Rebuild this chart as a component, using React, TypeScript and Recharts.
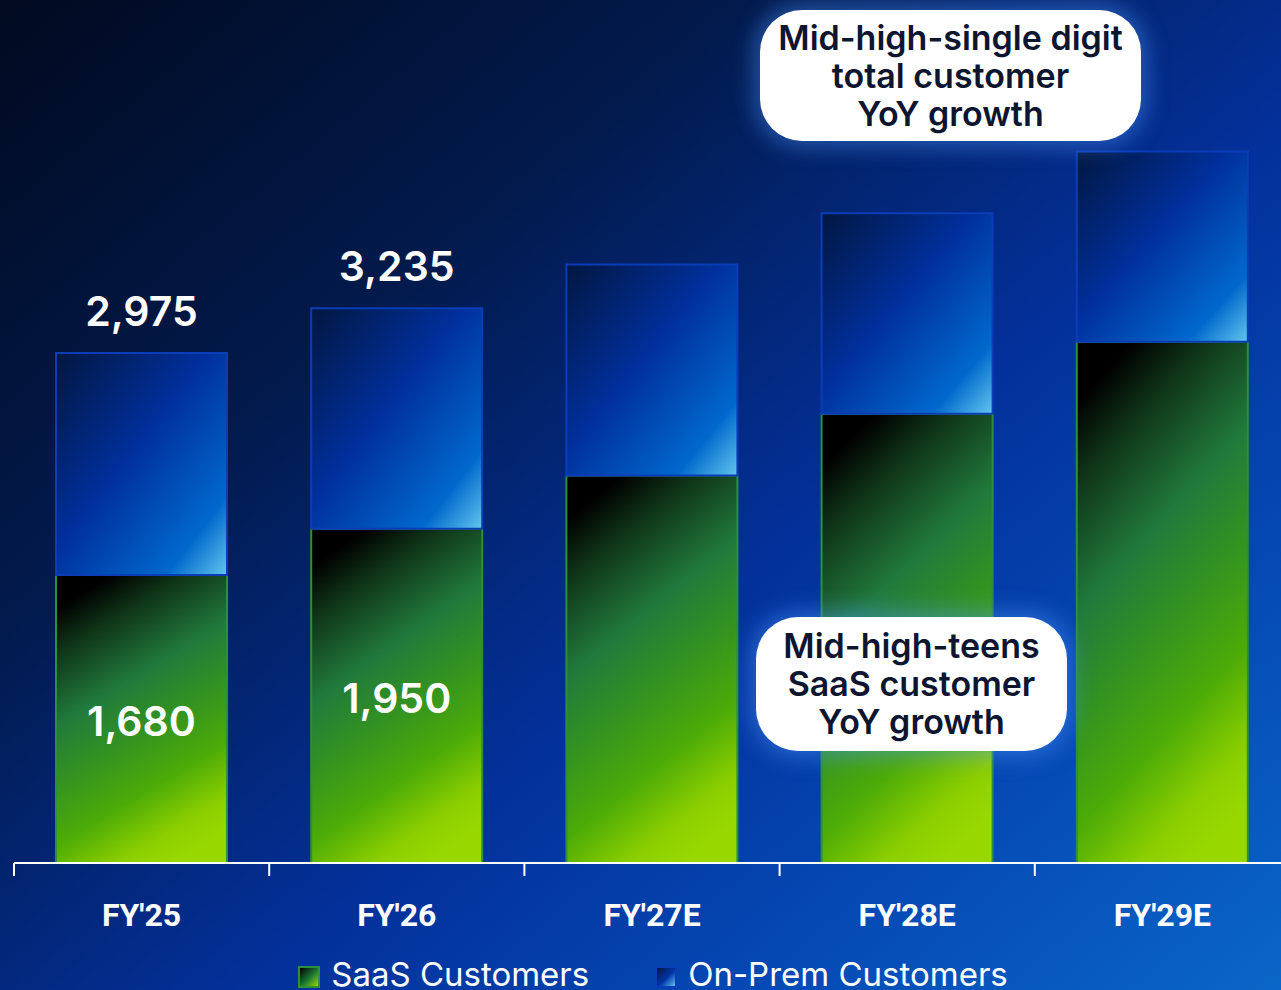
import { Bar, BarChart, LabelList, Legend, XAxis, YAxis } from "recharts";

const categories = ["FY'25", "FY'26", "FY'27E", "FY'28E", "FY'29E"];
const totalCustomers = [2975, 3235, 3490, 3790, 4150];
const saasCustomers = [1680, 1950, 2260, 2620, 3040];
const showValues = [true, true, false, false, false];

const data = categories.map((name, i) => ({
  name,
  saas: saasCustomers[i],
  onPrem: totalCustomers[i] - saasCustomers[i],
  total: totalCustomers[i],
}));

const FONT = "Inter, 'Noto Sans', sans-serif";

function AxisTick(props: any) {
  const { x, y, payload, width } = props;
  const band = width / categories.length;
  const left = x - band / 2;
  return (
    <g>
      <line x1={left} x2={left} y1={y} y2={y + 13} stroke="#ffffff" strokeWidth={2} />
      <text
        x={x}
        y={y + 52}
        textAnchor="middle"
        dominantBaseline="central"
        fill="#ffffff"
        fontFamily="Roboto, sans-serif"
        fontWeight={700}
        fontSize={32}
      >
        {payload.value}
      </text>
    </g>
  );
}

function SaasLabel(props: any) {
  const { x, y, width, height, value, index } = props;
  if (!showValues[index]) return null;
  return (
    <text
      x={x + width / 2}
      y={y + height / 2 + 2}
      textAnchor="middle"
      dominantBaseline="central"
      fill="#ffffff"
      fontFamily={FONT}
      fontWeight={600}
      fontSize={41}
    >
      {Number(value).toLocaleString("en-US")}
    </text>
  );
}

function TotalLabel(props: any) {
  const { x, y, width, index } = props;
  if (!showValues[index]) return null;
  return (
    <text
      x={x + width / 2}
      y={y - 42}
      textAnchor="middle"
      dominantBaseline="central"
      fill="#ffffff"
      fontFamily={FONT}
      fontWeight={600}
      fontSize={41}
    >
      {totalCustomers[index].toLocaleString("en-US")}
    </text>
  );
}

function LegendContent() {
  const items = [
    { label: "SaaS Customers", grad: "linear-gradient(135deg, #000 0%, #1e7a35 55%, #9ad800 100%)", border: "#2c8f3a" },
    { label: "On-Prem Customers", grad: "linear-gradient(135deg, #02163f 0%, #0035a8 55%, #5cc2ee 100%)", border: "#0c3db8" },
  ];
  return (
    <div
      style={{
        height: 40,
        position: "relative",
        top: 31,
        display: "flex",
        justifyContent: "center",
        gap: 66,
        paddingLeft: 2,
      }}
    >
      {items.map((it) => (
        <div key={it.label} style={{ display: "flex", alignItems: "center", gap: 11 }}>
          <span
            style={{
              width: 18,
              height: 18,
              background: it.grad,
              border: `2px solid ${it.border}`,
              display: "inline-block",
              marginTop: 6,
            }}
          />
          <span style={{ color: "#fff", fontFamily: FONT, fontSize: 33, fontWeight: 400, lineHeight: "40px" }}>
            {it.label}
          </span>
        </div>
      ))}
    </div>
  );
}

const calloutText: React.CSSProperties = {
  fontFamily: FONT,
  fontWeight: 600,
  fontSize: 34,
  lineHeight: "38px",
  color: "#0d1530",
  textAlign: "center",
  whiteSpace: "nowrap",
};

export default function App() {
  return (
    <div
      style={{
        position: "absolute",
        left: 0,
        top: 0,
        width: 1281,
        height: 990,
        overflow: "hidden",
        background: "linear-gradient(140deg, #010a20 0%, #021a4c 30%, #03309a 58%, #0548b4 78%, #0a66c8 100%)",
      }}
    >
      <BarChart
        width={1290}
        height={1000}
        data={data}
        margin={{ top: 40, right: 0, left: 14, bottom: 37 }}
        barSize={171}
      >
        <defs>
          <linearGradient id="greenGrad" x1="0.32" y1="0" x2="0.68" y2="1">
            <stop offset="0%" stopColor="#000000" />
            <stop offset="14%" stopColor="#0f3518" />
            <stop offset="36%" stopColor="#217a3c" />
            <stop offset="56%" stopColor="#35951e" />
            <stop offset="73%" stopColor="#4dab07" />
            <stop offset="90%" stopColor="#8ccf00" />
            <stop offset="100%" stopColor="#98d800" />
          </linearGradient>
          <linearGradient id="blueGrad" x1="0" y1="0" x2="1" y2="1">
            <stop offset="0%" stopColor="#021640" />
            <stop offset="45%" stopColor="#00309e" />
            <stop offset="82%" stopColor="#0068cc" />
            <stop offset="100%" stopColor="#62c6ee" />
          </linearGradient>
        </defs>
        <XAxis
          dataKey="name"
          axisLine={{ stroke: "#ffffff", strokeWidth: 2 }}
          tickLine={false}
          tickSize={0}
          tickMargin={0}
          height={60}
          interval={0}
          tick={<AxisTick />}
        />
        <YAxis hide domain={[0, 4800]} />
        <Legend verticalAlign="bottom" content={<LegendContent />} />
        <Bar dataKey="saas" stackId="a" fill="url(#greenGrad)" stroke="#2c8f3a" strokeWidth={2} isAnimationActive={false}>
          <LabelList dataKey="saas" content={<SaasLabel />} />
        </Bar>
        <Bar dataKey="onPrem" stackId="a" fill="url(#blueGrad)" stroke="#0c3db8" strokeWidth={2} isAnimationActive={false}>
          <LabelList dataKey="onPrem" content={<TotalLabel />} />
        </Bar>
      </BarChart>

      <div
        style={{
          position: "absolute",
          left: 760,
          top: 10,
          width: 381,
          height: 131,
          borderRadius: 42,
          background: "#ffffff",
          boxShadow: "0 0 22px 6px rgba(80,150,255,0.45)",
          display: "flex",
          alignItems: "center",
          justifyContent: "center",
        }}
      >
        <div style={calloutText}>
          Mid-high-single digit
          <br />
          total customer
          <br />
          YoY growth
        </div>
      </div>

      <div
        style={{
          position: "absolute",
          left: 756,
          top: 617,
          width: 311,
          height: 134,
          borderRadius: 42,
          background: "#ffffff",
          boxShadow: "0 0 22px 6px rgba(80,150,255,0.45)",
          display: "flex",
          alignItems: "center",
          justifyContent: "center",
        }}
      >
        <div style={calloutText}>
          Mid-high-teens
          <br />
          SaaS customer
          <br />
          YoY growth
        </div>
      </div>
    </div>
  );
}
